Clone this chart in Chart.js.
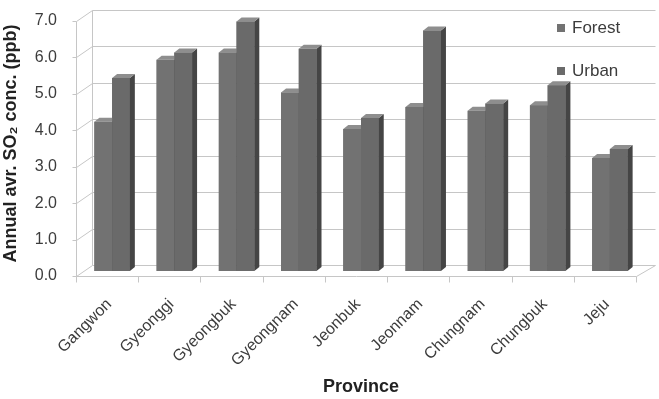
<!DOCTYPE html>
<html>
<head>
<meta charset="utf-8">
<style>
  html, body { margin: 0; padding: 0; background: #fff; }
  #wrap { width: 659px; height: 399px; }
</style>
</head>
<body>
<div id="wrap"><canvas id="chart" width="659" height="399"></canvas></div>
<script src="https://cdn.jsdelivr.net/npm/chart.js@4.4.1/dist/chart.umd.min.js"></script>
<script>
// data
const provinces = ['Gangwon', 'Gyeonggi', 'Gyeongbuk', 'Gyeongnam', 'Jeonbuk', 'Jeonnam', 'Chungnam', 'Chungbuk', 'Jeju'];
const forest = [4.1, 5.8, 6.0, 4.9, 3.9, 4.5, 4.4, 4.55, 3.1];
const urban = [5.3, 6.0, 6.85, 6.1, 4.2, 6.6, 4.6, 5.1, 3.35];
const seriesNames = ['Forest', 'Urban'];
const yMax = 7;

// colours
const gridColor = '#c6c6c6';
const textColor = '#3c3c3c';
const frontColors = ['#727272', '#6a6a6a'];
const sideColor = '#454545';
const topColor = '#8e8e8e';

// 3D offsets of the front and back planes from the bar plane
const front = { dx: -5, dy: 5 };
const back = { dx: 11, dy: -6 };
const barDepth = { dx: 5, dy: 4 };

function line(ctx, x1, y1, x2, y2) {
    ctx.beginPath();
    ctx.moveTo(Math.round(x1) + 0.5, Math.round(y1) + 0.5);
    ctx.lineTo(Math.round(x2) + 0.5, Math.round(y2) + 0.5);
    ctx.stroke();
}

function poly(ctx, pts, color) {
    ctx.beginPath();
    ctx.moveTo(pts[0][0], pts[0][1]);
    for (let i = 1; i < pts.length; i++) ctx.lineTo(pts[i][0], pts[i][1]);
    ctx.closePath();
    ctx.fillStyle = color;
    ctx.fill();
}

// walls, floor and legend
const walls3d = {
    id: 'walls3d',
    beforeDatasetsDraw(chart) {
        const { ctx, chartArea: a, scales } = chart;
        const y = scales.y;
        ctx.save();
        ctx.strokeStyle = gridColor;
        ctx.lineWidth = 1;
        const y0 = y.getPixelForValue(0);
        const yTop = y.getPixelForValue(yMax);
        // gridlines on back wall + left wall
        for (let v = 0; v <= yMax; v++) {
            const py = y.getPixelForValue(v);
            line(ctx, a.left + back.dx, py + back.dy, a.right + back.dx + 3, py + back.dy);
            line(ctx, a.left + front.dx, py + front.dy, a.left + back.dx, py + back.dy);
            line(ctx, a.left + front.dx - 4, py + front.dy, a.left + front.dx, py + front.dy);
        }
        // vertical edges of left wall
        line(ctx, a.left + front.dx, y0 + front.dy, a.left + front.dx, yTop + front.dy);
        line(ctx, a.left + back.dx, y0 + back.dy, a.left + back.dx, yTop + back.dy);
        // floor
        line(ctx, a.left + front.dx, y0 + front.dy, a.right + front.dx, y0 + front.dy);
        line(ctx, a.right + front.dx, y0 + front.dy, a.right + back.dx + 3, y0 + back.dy);
        // category ticks
        const step = (a.right - a.left) / provinces.length;
        for (let i = 0; i <= provinces.length; i++) {
            const px = a.left + front.dx + i * step;
            line(ctx, px, y0 + front.dy, px, y0 + front.dy + 6);
        }
        ctx.restore();
    },
    afterDatasetsDraw(chart) {
        const { ctx } = chart;
        const metas = [chart.getDatasetMeta(0), chart.getDatasetMeta(1)];
        ctx.save();
        for (let j = 0; j < provinces.length; j++) {
            metas.forEach((meta, i) => {
                const b = meta.data[j].getProps(['x', 'y', 'base', 'width'], true);
                const l = b.x - b.width / 2, r = b.x + b.width / 2;
                // front face (again, so it covers the neighbour's side)
                poly(ctx, [[l, b.y], [r, b.y], [r, b.base], [l, b.base]], frontColors[i]);
                // side face
                poly(ctx, [[r, b.y], [r + barDepth.dx, b.y - barDepth.dy], [r + barDepth.dx, b.base - barDepth.dy], [r, b.base]], sideColor);
                // top face
                poly(ctx, [[l, b.y], [l + barDepth.dx, b.y - barDepth.dy], [r + barDepth.dx, b.y - barDepth.dy], [r, b.y]], topColor);
            });
        }
        // legend
        ctx.font = '17px "Liberation Sans", Arial, sans-serif';
        ctx.textBaseline = 'middle';
        ctx.textAlign = 'left';
        const legendY = [28, 71];
        seriesNames.forEach((name, i) => {
            ctx.fillStyle = frontColors[i];
            ctx.fillRect(557, legendY[i] - 4, 8, 8);
            ctx.fillStyle = textColor;
            ctx.fillText(name, 572, legendY[i]);
        });
        ctx.restore();
    }
};

const ctx = document.getElementById('chart').getContext('2d');
const chart = new Chart(ctx, {
    type: 'bar',
    data: {
        labels: provinces,
        datasets: [
            { label: seriesNames[0], data: forest, backgroundColor: frontColors[0] },
            { label: seriesNames[1], data: urban, backgroundColor: frontColors[1] }
        ]
    },
    options: {
        responsive: false,
        animation: false,
        layout: { padding: { top: 16, right: 18, left: 0, bottom: 0 } },
        categoryPercentage: 0.57,
        barPercentage: 1.0,
        plugins: {
            legend: { display: false },
            tooltip: { enabled: false }
        },
        scales: {
            x: {
                grid: { display: false, drawTicks: false },
                border: { display: false },
                ticks: {
                    color: textColor,
                    font: { family: '"Liberation Sans", Arial, sans-serif', size: 16 },
                    minRotation: 45,
                    maxRotation: 45,
                    padding: 24,
                    labelOffset: -3
                },
                title: {
                    display: true,
                    text: 'Province',
                    color: '#222',
                    font: { family: '"Liberation Sans", Arial, sans-serif', size: 18, weight: 'bold' },
                    padding: { top: 0, bottom: 1 }
                },
                afterFit(scale) {
                    scale.height = 128;
                    scale.paddingLeft = 0;
                    scale.paddingRight = 0;
                }
            },
            y: {
                min: 0,
                max: yMax,
                grid: { display: false, drawTicks: false },
                border: { display: false },
                ticks: {
                    stepSize: 1,
                    color: textColor,
                    font: { family: '"Liberation Sans", Arial, sans-serif', size: 16 },
                    padding: 24,
                    labelOffset: 5,
                    callback: v => v.toFixed(1)
                },
                title: {
                    display: true,
                    text: 'Annual avr. SO₂ conc. (ppb)',
                    color: '#222',
                    font: { family: '"Liberation Sans", Arial, sans-serif', size: 18, weight: 'bold' },
                    padding: { top: 0, bottom: 0 }
                },
                afterFit(scale) {
                    scale.width = 81;
                    scale.paddingTop = 0;
                    scale.paddingBottom = 0;
                }
            }
        }
    },
    plugins: [walls3d]
});
</script>
</body>
</html>
